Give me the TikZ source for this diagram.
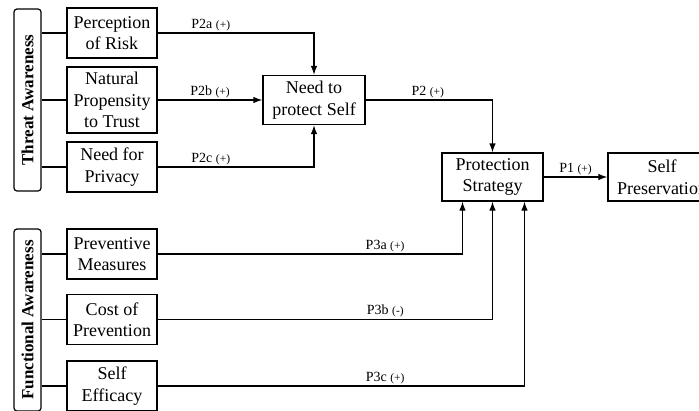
\documentclass[tikz,border=0pt]{standalone}
\usepackage{fontspec}
\setmainfont{LiberationSerif}[Extension=.ttf,UprightFont=*-Regular,BoldFont=*-Bold,ItalicFont=*-Italic,BoldItalicFont=*-BoldItalic]
\usetikzlibrary{positioning,calc,arrows.meta}
\tikzset{block/.style={draw,line width=1.2pt,minimum width=90pt,minimum height=50pt,align=center,inner sep=2pt,font=\fontsize{18}{21.5}\selectfont},
         group/.style={draw,line width=1.2pt,rounded corners=3pt,rotate=90,minimum width=182pt,minimum height=27pt,inner sep=0pt,font=\fontsize{17}{20}\selectfont\bfseries},
         line/.style={line width=1.2pt,-{Latex[length=9pt,width=6.5pt]}},
         link/.style={line width=1.2pt},
         lbl/.style={above,inner sep=1.5pt,font=\fontsize{14}{16}\selectfont}
}
\newcommand{\sgn}[1]{{\fontsize{11.5}{13}\selectfont(#1)}}

\begin{document}
\begin{tikzpicture}[x=1pt,y=1pt,yscale=-1,xscale=1]
\useasboundingbox (0,0) rectangle (699,410);
\clip (0,0) rectangle (699,410);

% Groups
\node[group] (ta) at (27.5,100) {Threat Awareness};
\node[group] (fa) at (27.5,320) {Functional Awareness};

% Threat factors
\node[block] (pr) at (112,33) {Perception\\of Risk};
\node[block,minimum height=66pt] (np) at (112,100) {Natural\\Propensity\\to Trust};
\node[block] (nfp) at (112,167) {Need for\\Privacy};

% Functional factors
\node[block] (pm) at (112,254) {Preventive\\Measures};
\node[block] (cp) at (112,319.5) {Cost of\\Prevention};
\node[block] (se) at (112,386) {Self\\Efficacy};

% Middle and outcome
\node[block,minimum width=102pt,minimum height=49pt] (need) at (314,100) {Need to\\protect Self};
\node[block,minimum width=101pt,minimum height=48pt] (ps) at (492.5,177) {Protection\\Strategy};
\node[block,minimum width=108pt,minimum height=48pt] (sp) at (662,177) {Self\\Preservation};

% group brackets (south is the right side of a rotated node)
\foreach \b in {pr,np,nfp} \draw[link] (\b.west) -- (\b.west -| ta.south);
\foreach \b in {pm,cp,se} \draw[link] (\b.west) -- (\b.west -| fa.south);

% P2
\draw[line] (pr) -| node[lbl,pos=0.17] {P2a \sgn{+}} (need);
\draw[line] (np) -- node[lbl] {P2b \sgn{+}} (need);
\draw[line] (nfp) -| node[lbl,pos=0.17] {P2c \sgn{+}} (need);
\draw[line] (need) -| node[lbl,pos=0.245] {P2 \sgn{+}} (ps);
\draw[line] (ps) -- node[lbl] {P1 \sgn{+}} (sp);

% P3
\coordinate (ina) at ($(ps.south)+(-30,0)$);
\coordinate (inb) at (ps.south);
\coordinate (inc) at ($(ps.south)+(32,0)$);
\draw[line] (pm) -| node[lbl,pos=0.373] {P3a \sgn{+}} (ina);
\draw[line] (cp) -| node[lbl,pos=0.34] {P3b \sgn{-}} (inb);
\draw[line] (se) -| node[lbl,pos=0.31] {P3c \sgn{+}} (inc);

\end{tikzpicture}
\end{document}
